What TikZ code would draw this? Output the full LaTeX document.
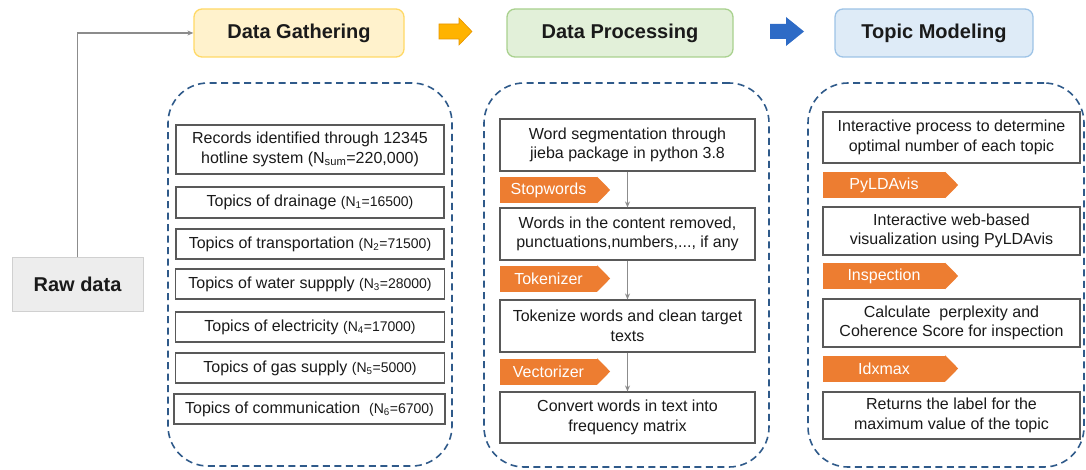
\documentclass[tikz,border=0pt]{standalone}
\usepackage{fontspec}
\setmainfont{Liberation Sans}
\usetikzlibrary{arrows.meta,calc}
\definecolor{txt}{HTML}{1A1A1A}
\definecolor{boxline}{HTML}{595959}
\definecolor{dashblue}{HTML}{2F5A8A}
\definecolor{tagor}{HTML}{ED7D31}
\definecolor{yfill}{HTML}{FFF2CC}
\definecolor{yline}{HTML}{FFD966}
\definecolor{gfill}{HTML}{E2F0D9}
\definecolor{gline}{HTML}{A9D18E}
\definecolor{bfill}{HTML}{DEEBF7}
\definecolor{bline}{HTML}{9DC3E6}
\definecolor{rawfill}{HTML}{EDEDED}
\definecolor{rawline}{HTML}{D0D0D0}
\definecolor{arrgray}{HTML}{8C8C8C}
\definecolor{amber}{HTML}{FFB300}
\definecolor{amberline}{HTML}{E69500}
\definecolor{bluearr}{HTML}{2E6BC6}
\newcommand{\bodyfont}{\fontsize{16}{19.5}\selectfont}
\newcommand{\smallpar}[2]{{\fontsize{14}{16}\selectfont(N\textsubscript{#1}=#2)}}
\tikzset{
  header/.style={draw, rounded corners=8pt, line width=1.3pt, inner sep=0pt,
    minimum height=48pt, text=txt, font=\fontsize{20}{24}\selectfont\bfseries},
  container/.style={draw=dashblue, line width=1.6pt, dash pattern=on 7pt off 4.5pt,
    rounded corners=40pt, inner sep=0pt},
  pbox/.style={draw=boxline, line width=1.1pt, fill=white, inner sep=0pt, align=center,
    text=txt, font=\bodyfont},
  tagbox/.style={fill=tagor, inner sep=0pt, minimum height=26pt, text=white,
    font=\fontsize{16}{19}\selectfont},
  flow/.style={draw=arrgray, line width=1pt, -{Stealth[length=6pt,width=5pt]}},
}
\begin{document}
\begin{tikzpicture}[x=1pt,y=-1pt]
\useasboundingbox (0,0) rectangle (1086,470);

% headers
\node[header, fill=yfill, draw=yline, minimum width=210pt] (gather) at (299,33) {Data Gathering};
\node[header, fill=gfill, draw=gline, minimum width=226pt] (proc) at (620,33) {Data Processing};
\node[header, fill=bfill, draw=bline, minimum width=198pt] (topic) at (934,33) {Topic Modeling};

% block arrows between headers
\filldraw[fill=amber, draw=amberline, line width=0.6pt]
  (439,24) -- (459,24) -- (459,18) -- (472,31.5) -- (459,45) -- (459,39) -- (439,39) -- cycle;
\fill[bluearr]
  (770,24) -- (786,24) -- (786,17) -- (804,31.5) -- (786,46) -- (786,39) -- (770,39) -- cycle;

% raw data
\node[draw=rawline, fill=rawfill, line width=1pt, minimum width=131pt, minimum height=53pt,
  inner sep=0pt, text=txt, font=\fontsize{20}{24}\selectfont\bfseries] (raw) at (77.5,284.5) {Raw data};
\draw[flow, line width=1.3pt] (raw.north) |- (gather.west);

% containers
\node[container, minimum width=284pt, minimum height=383pt] (c1) at (310,274.5) {};
\node[container, minimum width=285pt, minimum height=384pt] (c2) at (626.5,275) {};
\node[container, minimum width=276pt, minimum height=384pt] (c3) at (946,275) {};

% container 1 boxes
\node[pbox, minimum width=268pt, minimum height=49pt] (g1) at (310,149.5)
  {Records identified through 12345\\hotline system (N\textsubscript{sum}=220,000)};
\node[pbox, minimum width=268pt, minimum height=31pt] (g2) at (310,202.5)
  {Topics of drainage \smallpar{1}{16500}};
\node[pbox, minimum width=268pt, minimum height=30pt] (g3) at (310,244)
  {Topics of transportation \smallpar{2}{71500}};
\node[pbox, minimum width=269pt, minimum height=30pt] (g4) at (310,284)
  {Topics of water suppply \smallpar{3}{28000}};
\node[pbox, minimum width=269pt, minimum height=30pt] (g5) at (310,327)
  {Topics of electricity \smallpar{4}{17000}};
\node[pbox, minimum width=269pt, minimum height=30pt] (g6) at (310,368)
  {Topics of gas supply \smallpar{5}{5000}};
\node[pbox, minimum width=271pt, minimum height=30pt] (g7) at (309.5,409)
  {Topics of communication\ \ \smallpar{6}{6700}};

% container 2 boxes
\node[pbox, minimum width=255pt, minimum height=52pt] (p1) at (627.5,145)
  {Word segmentation through\\jieba package in python 3.8};
\node[pbox, minimum width=255pt, minimum height=52pt] (p2) at (627.5,234)
  {Words in the content removed,\\punctuations,numbers,..., if any};
\node[pbox, minimum width=255pt, minimum height=52pt] (p3) at (627.5,326)
  {Tokenize words and clean target\\texts};
\node[pbox, minimum width=255pt, minimum height=51pt] (p4) at (627.5,417.5)
  {Convert words in text into\\frequency matrix};
\draw[flow] (p1.south) -- (p2.north);
\draw[flow] (p2.south) -- (p3.north);
\draw[flow] (p3.south) -- (p4.north);

\node[tagbox, minimum width=97pt] (s1) at (548.5,190) {Stopwords};
\node[tagbox, minimum width=97pt] (s2) at (548.5,278.5) {Tokenizer};
\node[tagbox, minimum width=97pt] (s3) at (548.5,371.5) {Vectorizer};

% container 3 boxes
\node[pbox, minimum width=257pt, minimum height=51pt] (m1) at (951.5,137.5)
  {Interactive process to determine\\optimal number of each topic};
\node[pbox, minimum width=257pt, minimum height=48pt] (m2) at (951.5,231)
  {Interactive web-based\\visualization using PyLDAvis};
\node[pbox, minimum width=257pt, minimum height=48pt] (m3) at (951.5,323)
  {Calculate\ \ perplexity and\\Coherence Score for inspection};
\node[pbox, minimum width=257pt, minimum height=47pt] (m4) at (951.5,415.5)
  {Returns the label for the\\maximum value of the topic};

\node[tagbox, minimum width=122pt] (t1) at (884,185) {PyLDAvis};
\node[tagbox, minimum width=122pt] (t2) at (884,276) {Inspection};
\node[tagbox, minimum width=122pt] (t3) at (884,368.5) {Idxmax};

% tag points
\foreach \t in {s1,s2,s3,t1,t2,t3}{
  \fill[tagor] (\t.north east) -- ($(\t.east)+(13,0)$) -- (\t.south east) -- cycle;
}
\end{tikzpicture}
\end{document}
